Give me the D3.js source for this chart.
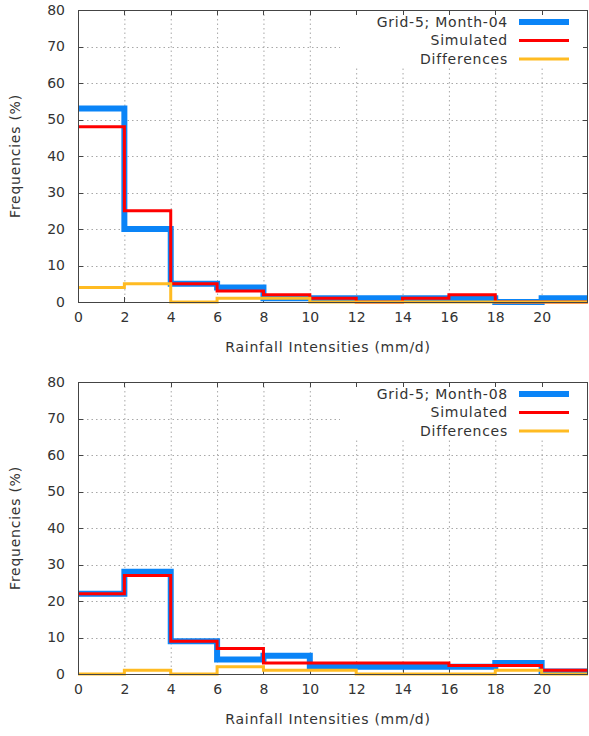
<!DOCTYPE html>
<html>
<head>
<meta charset="utf-8">
<script src="https://cdn.jsdelivr.net/npm/d3@7"></script>
<style>
  html, body { margin: 0; padding: 0; background: #fff; }
  svg { display: block; }
  text { font-family: "DejaVu Sans", sans-serif; fill: #333; }
</style>
</head>
<body>
<svg id="chart" width="589" height="736"></svg>
<script>
// ---- data ----
const binEdges = [0, 2, 4, 6, 8, 10, 12, 14, 16, 18, 20, 22];
const xTicks = [0, 2, 4, 6, 8, 10, 12, 14, 16, 18, 20];
const yTicks = [0, 10, 20, 30, 40, 50, 60, 70, 80];
const seriesNames04 = ["Grid-5; Month-04", "Simulated", "Differences"];
const seriesNames08 = ["Grid-5; Month-08", "Simulated", "Differences"];

const observed04   = [53, 20, 5, 4, 1, 1, 1, 1, 1, 0, 1];
const simulated04  = [48, 25, 5, 3, 2, 1, 0, 1, 2, 0, 0];
const differences04 = [4, 5, 0, 1, 1, 0, 0, 0, 0, 0, 0];

const observed08   = [22, 28, 9, 4, 5, 2, 2, 2, 2, 3, 0.7];
const simulated08  = [22, 27, 9, 7, 3, 3, 3, 3, 2.3, 2.3, 1];
const differences08 = [0, 1, 0, 2, 1, 1, 0, 0, 0, 1, 0];

const xLabel = "Rainfall Intensities (mm/d)";
const yLabel = "Frequencies (%)";

// ---- styles ----
const colors = ["#0a84f7", "#ff0000", "#ffbb22"];
const widths = [6, 3, 3];
const wordSpacing = "0.75px";

const svg = d3.select("#chart");

function panel(top, names, seriesList) {
  const left = 78, right = 588, plotTop = top, plotBottom = top + 292;
  const x = d3.scaleLinear().domain([0, 22]).range([left, right]);
  const y = d3.scaleLinear().domain([0, 80]).range([plotBottom, plotTop]);
  const g = svg.append("g");

  // grid
  const grid = g.append("g").attr("stroke", "#a8a8a8").attr("stroke-width", 1)
    .attr("stroke-dasharray", "1.5,3");
  xTicks.filter(t => t > 0).forEach(t => {
    grid.append("line").attr("x1", x(t) + 0.5).attr("x2", x(t) + 0.5)
      .attr("y1", plotTop).attr("y2", plotBottom);
  });
  yTicks.filter(t => t > 0 && t < 80).forEach(t => {
    grid.append("line").attr("x1", left).attr("x2", right)
      .attr("y1", Math.round(y(t)) + 0.5).attr("y2", Math.round(y(t)) + 0.5);
  });

  // legend background
  g.append("rect").attr("x", 340).attr("y", plotTop + 1)
    .attr("width", right - 1 - 340).attr("height", 57).attr("fill", "#fff");

  // axes (bottom & left with labels)
  const xAxis = d3.axisBottom(x).tickValues(xTicks).tickSize(0).tickPadding(10);
  const gx = g.append("g").attr("transform", `translate(0,${plotBottom})`).call(xAxis);
  gx.select(".domain").remove();
  gx.selectAll("text").style("font-size", "14px").attr("fill", "#333")
    .style("font-family", "DejaVu Sans, sans-serif");

  const yAxis = d3.axisLeft(y).tickValues(yTicks).tickSize(0).tickPadding(13);
  const gy = g.append("g").attr("transform", `translate(${left},0)`).call(yAxis);
  gy.select(".domain").remove();
  gy.selectAll("text").style("font-size", "14px").attr("fill", "#333")
    .style("font-family", "DejaVu Sans, sans-serif");

  // tick marks (inward, mirrored)
  const tk = g.append("g").attr("stroke", "#444").attr("stroke-width", 1);
  xTicks.forEach(t => {
    const xx = Math.round(x(t)) + 0.5;
    tk.append("line").attr("x1", xx).attr("x2", xx).attr("y1", plotBottom).attr("y2", plotBottom - 5);
    tk.append("line").attr("x1", xx).attr("x2", xx).attr("y1", plotTop).attr("y2", plotTop + 5);
  });
  yTicks.forEach(t => {
    const yy = Math.round(y(t)) + 0.5;
    tk.append("line").attr("x1", left).attr("x2", left + 5).attr("y1", yy).attr("y2", yy);
    tk.append("line").attr("x1", right).attr("x2", right - 5).attr("y1", yy).attr("y2", yy);
  });

  // series steps
  const line = d3.line().x(d => x(d[0])).y(d => y(d[1])).curve(d3.curveStepAfter);
  seriesList.forEach((vals, i) => {
    const pts = binEdges.map((e, k) => [e, k < vals.length ? vals[k] : vals[vals.length - 1]]);
    g.append("path").datum(pts).attr("d", line).attr("fill", "none")
      .attr("stroke", colors[i]).attr("stroke-width", widths[i])
      .attr("stroke-linejoin", "miter");
  });

  // frame
  g.append("rect").attr("x", left + 0.5).attr("y", plotTop + 0.5)
    .attr("width", right - left - 1).attr("height", plotBottom - plotTop)
    .attr("fill", "none").attr("stroke", "#444").attr("stroke-width", 1);

  // legend
  const lg = g.append("g");
  names.forEach((n, i) => {
    const yy = plotTop + 12 + i * 18.5;
    lg.append("text").attr("x", 508).attr("y", yy).attr("dy", "0.35em")
      .attr("text-anchor", "end").style("font-size", "14px")
      .style("letter-spacing", wordSpacing).text(n);
    lg.append("line").attr("x1", 519).attr("x2", 569).attr("y1", yy).attr("y2", yy)
      .attr("stroke", colors[i]).attr("stroke-width", widths[i]);
  });

  // axis labels
  g.append("text").attr("x", 328).attr("y", plotBottom + 50)
    .attr("text-anchor", "middle").style("font-size", "14px")
    .style("letter-spacing", wordSpacing).text(xLabel);
  g.append("text").attr("transform", `translate(20,${(plotTop + plotBottom) / 2}) rotate(-90)`)
    .attr("text-anchor", "middle").style("font-size", "14px")
    .style("letter-spacing", wordSpacing).text(yLabel);
}

panel(10, seriesNames04, [observed04, simulated04, differences04]);
panel(382, seriesNames08, [observed08, simulated08, differences08]);
</script>
</body>
</html>
